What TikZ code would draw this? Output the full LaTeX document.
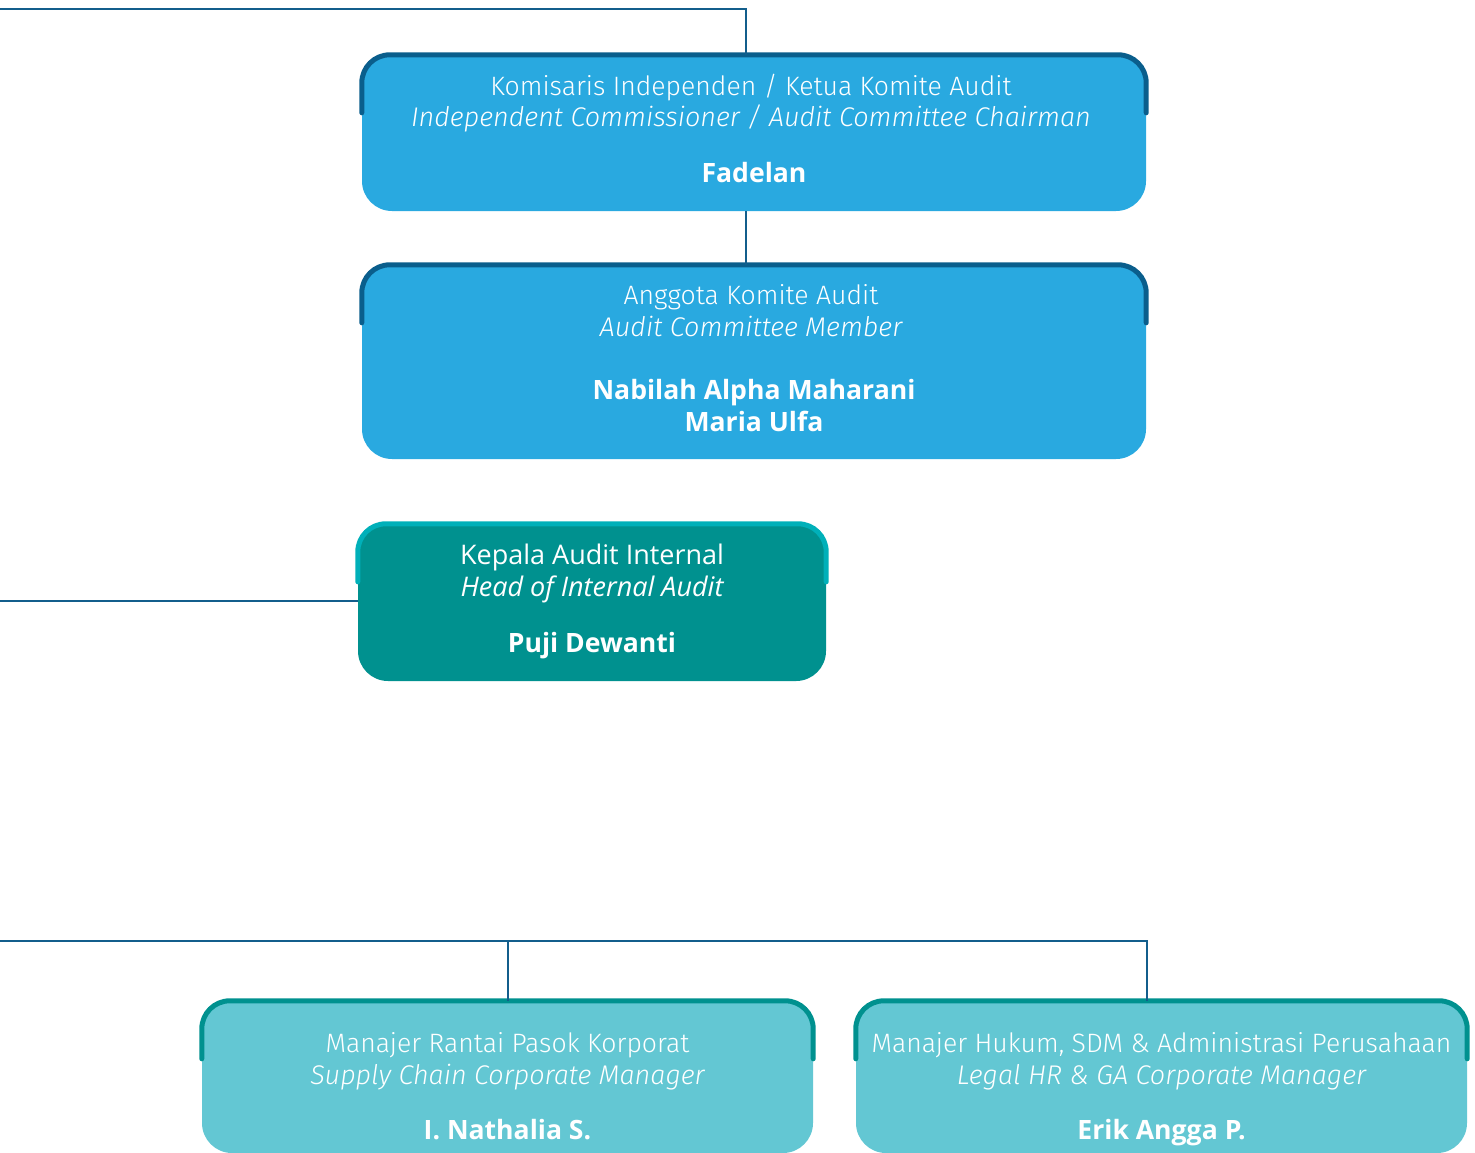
\documentclass[tikz,border=0pt]{standalone}
\usepackage{fontspec}
\setmainfont{Open Sans}
\newfontfamily\lightfont{Fira Sans Light}[ItalicFont={Fira Sans Light Italic}]
\usetikzlibrary{positioning, calc}

\definecolor{linkblue}{HTML}{135E8C}
\definecolor{skyfill}{HTML}{29A9E0}
\definecolor{skyedge}{HTML}{0A5E8C}
\definecolor{tealfill}{HTML}{00918F}
\definecolor{tealedge}{HTML}{00B0B9}
\definecolor{aquafill}{HTML}{63C7D3}

\tikzset{
    link/.style={draw=linkblue, line width=2pt},
    box/.style={rectangle, rounded corners=30pt, inner sep=0pt},
    skybox/.style={box, fill=skyfill},
    tealbox/.style={box, fill=tealfill},
    aquabox/.style={box, fill=aquafill},
    rim/.style={line width=5pt, line cap=round, rounded corners=28pt},
    title/.style={anchor=base, text=white, font=\lightfont\fontsize{26.6}{30}\selectfont},
    subtitle/.style={title, font=\lightfont\itshape\fontsize{27}{30}\selectfont},
    person/.style={anchor=base, text=white, font=\bfseries\fontsize{26.6}{30}\selectfont},
    ihead/.style={anchor=base, text=white, font=\fontsize{27}{30}\selectfont},
    isub/.style={ihead, font=\itshape\fontsize{27}{30}\selectfont}
}

\begin{document}
\begin{tikzpicture}[x=1pt, y=-1pt]
    \clip (0,0) rectangle (1475,1152);

    % boxes
    \node[skybox, minimum width=784pt, minimum height=156pt] (kom) at (754,133) {};
    \node[skybox, minimum width=784pt, minimum height=194pt] (ang) at (754,362) {};
    \node[tealbox, minimum width=468pt, minimum height=157pt] (kep) at (592,602.5) {};
    \node[aquabox, minimum width=611pt, minimum height=152pt] (sc) at (507.5,1077) {};
    \node[aquabox, minimum width=611pt, minimum height=152pt] (hr) at (1161.5,1077) {};

    % top rims
    \draw[rim, skyedge] ([yshift=-58pt]kom.north west) |- (kom.north) -| ([yshift=-58pt]kom.north east);
    \draw[rim, skyedge] ([yshift=-58pt]ang.north west) |- (ang.north) -| ([yshift=-58pt]ang.north east);
    \draw[rim, tealedge] ([yshift=-58pt]kep.north west) |- (kep.north) -| ([yshift=-58pt]kep.north east);
    \draw[rim, tealfill] ([yshift=-58pt]sc.north west) |- (sc.north) -| ([yshift=-58pt]sc.north east);
    \draw[rim, tealfill] ([yshift=-58pt]hr.north west) |- (hr.north) -| ([yshift=-58pt]hr.north east);

    % texts
    \node[title] (kom-a) at ($(kom.north)+(-3,41)$) {Komisaris Independen / Ketua Komite Audit};
    \node[subtitle] (kom-b) at ($(kom.north)+(-3,72)$) {Independent Commissioner / Audit Committee Chairman};
    \node[person] (kom-c) at ($(kom.north)+(0,128)$) {Fadelan};

    \node[title] (ang-a) at ($(ang.north)+(-3,40)$) {Anggota Komite Audit};
    \node[subtitle] (ang-b) at ($(ang.north)+(-3,72)$) {Audit Committee Member};
    \node[person] (ang-c) at ($(ang.north)+(0,135)$) {Nabilah Alpha Maharani};
    \node[person] (ang-d) at ($(ang.north)+(0,167)$) {Maria Ulfa};

    \node[ihead] (kep-a) at ($(kep.north)+(0,41)$) {Kepala Audit Internal};
    \node[isub] (kep-b) at ($(kep.north)+(0,73)$) {Head of Internal Audit};
    \node[person] (kep-c) at ($(kep.north)+(0,129)$) {Puji Dewanti};

    \node[title] (sc-a) at ($(sc.north)+(0,52)$) {Manajer Rantai Pasok Korporat};
    \node[subtitle] (sc-b) at ($(sc.north)+(0,84)$) {Supply Chain Corporate Manager};
    \node[person] (sc-c) at ($(sc.north)+(0,139)$) {I. Nathalia S.};

    \node[title] (hr-a) at ($(hr.north)+(0,52)$) {Manajer Hukum, SDM \& Administrasi Perusahaan};
    \node[subtitle] (hr-b) at ($(hr.north)+(0,84)$) {Legal HR \& GA Corporate Manager};
    \node[person] (hr-c) at ($(hr.north)+(0,139)$) {Erik Angga P.};

    % connectors
    \coordinate (topleft) at (0,9);
    \coordinate (midleft) at (0,601);
    \coordinate (botleft) at (0,941);
    \draw[link] (topleft) -| ([xshift=-8pt]kom.north);
    \draw[link] ([xshift=-8pt]kom.south) -- ([xshift=-8pt]ang.north);
    \draw[link] (midleft) -- (kep.west |- midleft);
    \draw[link] (botleft) -| ([xshift=-15pt]hr.north);
    \draw[link] (sc.north |- botleft) -- (sc.north);
\end{tikzpicture}
\end{document}
